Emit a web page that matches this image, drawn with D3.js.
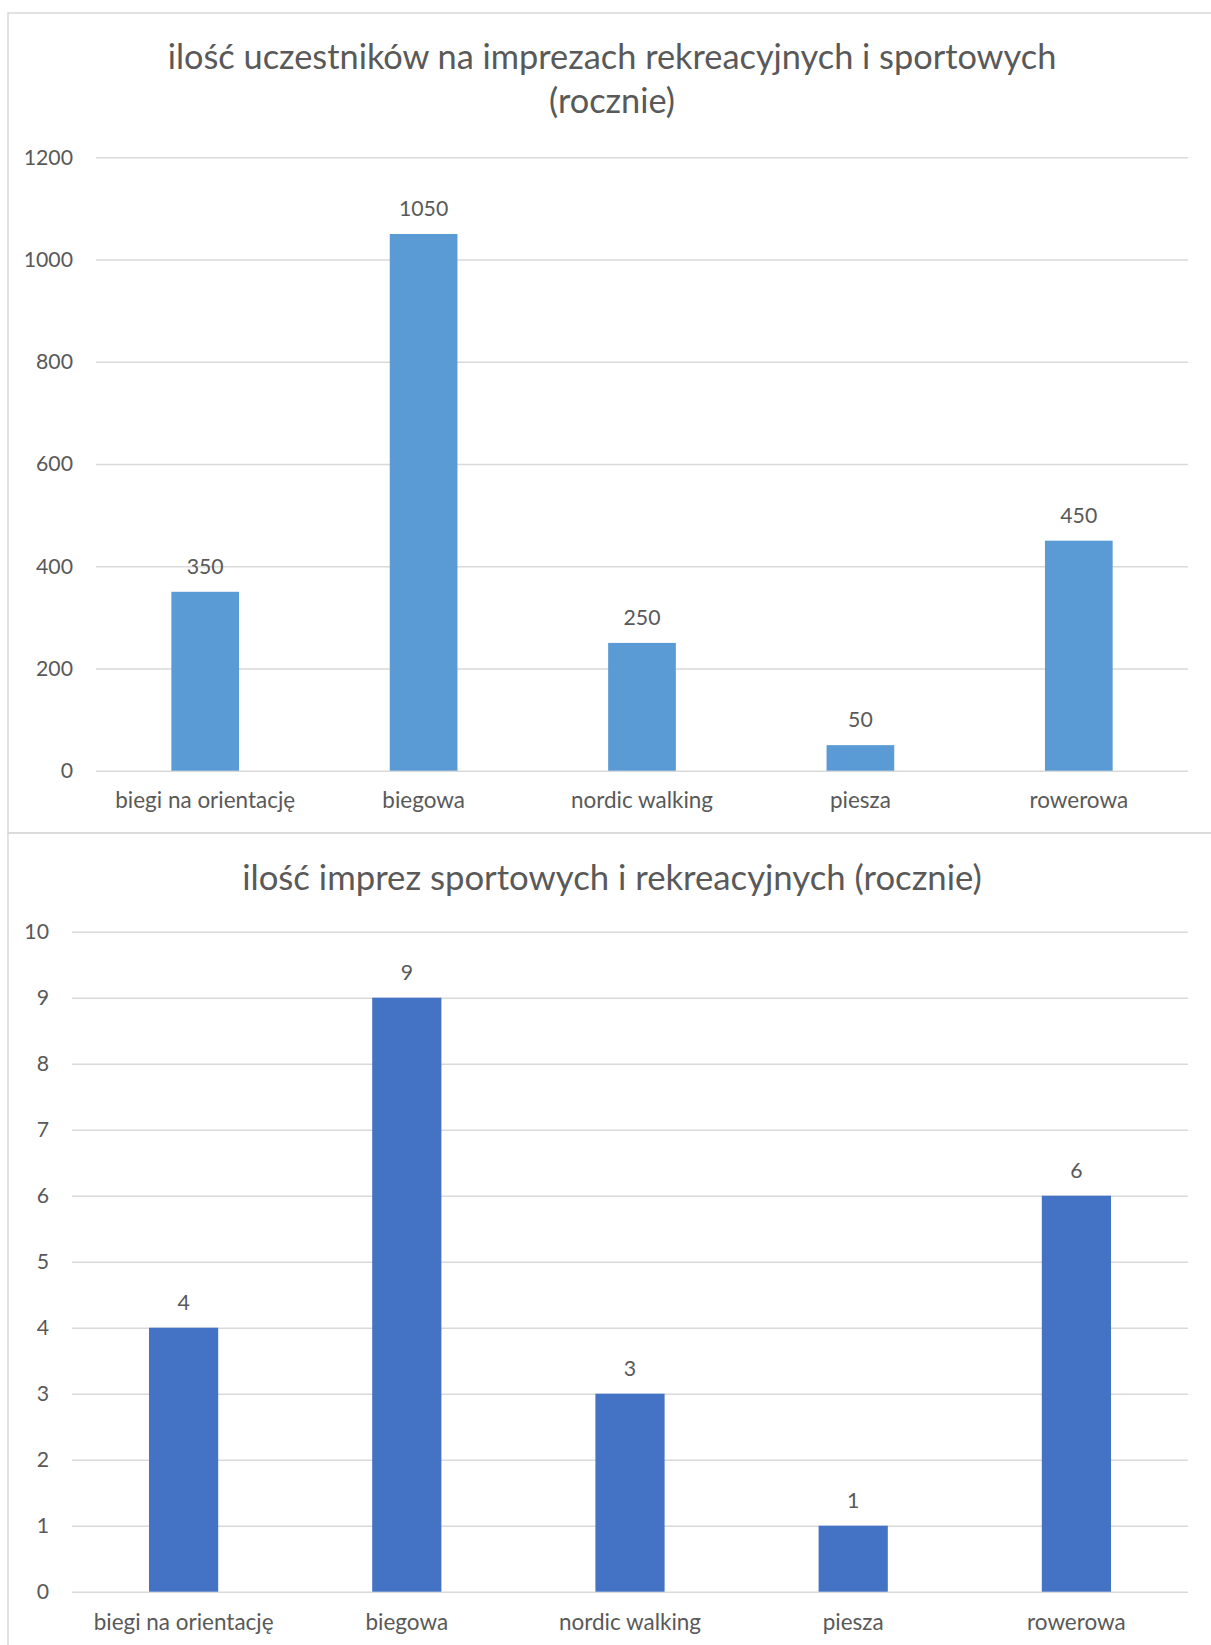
<!DOCTYPE html>
<html>
<head>
<meta charset="utf-8">
<script src="https://d3js.org/d3.v7.min.js"></script>
<style>
  html, body { margin: 0; padding: 0; background: #ffffff; }
  svg { display: block; }
  text { font-family: Lato, "Open Sans", sans-serif; fill: #595959; }
</style>
</head>
<body>
<svg id="chart" width="1211" height="1645"></svg>
<script>
// ---- data ----
const categories = ["biegi na orientację", "biegowa", "nordic walking", "piesza", "rowerowa"];
const participants = [350, 1050, 250, 50, 450];
const events = [4, 9, 3, 1, 6];
const participantTicks = [0, 200, 400, 600, 800, 1000, 1200];
const eventTicks = [0, 1, 2, 3, 4, 5, 6, 7, 8, 9, 10];
const title1Lines = ["ilość uczestników na imprezach rekreacyjnych i sportowych", "(rocznie)"];
const title2Lines = ["ilość imprez sportowych i rekreacyjnych (rocznie)"];

const svg = d3.select("#chart");
const grid = "#d9d9d9";

// measure helper to fit a font size to a target text width
function fitSize(str, targetWidth) {
  const t = svg.append("text").attr("font-size", 100).text(str);
  const w = t.node().getComputedTextLength();
  t.remove();
  return 100 * targetWidth / w;
}
const title1Size = fitSize(title1Lines[0], 889);
const title2Size = fitSize(title2Lines[0], 740);
const labelSize = fitSize(categories[0], 180);
const numSize = (fitSize("1200", 46.5) + labelSize) / 2;

// chart frames
svg.append("rect").attr("x", 8).attr("y", 13).attr("width", 1208).attr("height", 820)
  .attr("fill", "none").attr("stroke", grid).attr("stroke-width", 1.5);
svg.append("rect").attr("x", 8).attr("y", 833).attr("width", 1208).attr("height", 830)
  .attr("fill", "none").attr("stroke", grid).attr("stroke-width", 1.5);

function drawChart(cfg) {
  const g = svg.append("g");
  const x = d3.scaleBand().domain(categories).range([cfg.x0, cfg.x1])
    .paddingInner(0.69).paddingOuter(0.345);
  const y = d3.scaleLinear().domain([cfg.ticks[0], cfg.ticks[cfg.ticks.length - 1]]).range([cfg.yBottom, cfg.yTop]);

  // title
  cfg.title.forEach((line, i) => {
    g.append("text").attr("x", 612).attr("y", cfg.titleY + i * 44)
      .attr("text-anchor", "middle").attr("font-size", cfg.titleSize).text(line);
  });

  // gridlines + value axis
  const yAxis = d3.axisLeft(y).tickValues(cfg.ticks).tickSize(-(cfg.x1 - cfg.x0)).tickPadding(23).tickFormat(d3.format("d"));
  const ag = g.append("g").attr("transform", `translate(${cfg.x0},0)`).call(yAxis);
  ag.select(".domain").remove();
  ag.selectAll(".tick line").attr("stroke", grid).attr("stroke-width", 1.5);
  ag.selectAll(".tick text").attr("font-size", numSize).attr("fill", "#595959")
    .style("font-family", "Lato, 'Open Sans', sans-serif");

  // bars
  g.selectAll("rect.bar").data(cfg.values).enter().append("rect")
    .attr("class", "bar")
    .attr("x", (d, i) => x(categories[i]))
    .attr("width", x.bandwidth())
    .attr("y", d => y(d))
    .attr("height", d => y(0) - y(d))
    .attr("fill", cfg.color);

  // data labels
  g.selectAll("text.val").data(cfg.values).enter().append("text")
    .attr("class", "val")
    .attr("x", (d, i) => x(categories[i]) + x.bandwidth() / 2)
    .attr("y", d => y(d) - 18)
    .attr("text-anchor", "middle").attr("font-size", numSize).text(d => d);

  // category axis
  const xAxis = d3.axisBottom(x).tickSize(0).tickPadding(0);
  const xg = g.append("g").attr("transform", `translate(0,${cfg.yBottom})`).call(xAxis);
  xg.select(".domain").remove();
  xg.selectAll(".tick text").attr("font-size", labelSize).attr("fill", "#595959")
    .style("font-family", "Lato, 'Open Sans', sans-serif")
    .attr("dy", null).attr("y", cfg.catOffset);
}

drawChart({
  x0: 96, x1: 1188, yTop: 157.3, yBottom: 770.7,
  ticks: participantTicks, values: participants, color: "#5B9BD5",
  title: title1Lines, titleY: 69, titleSize: title1Size, catOffset: 37
});
drawChart({
  x0: 72, x1: 1188, yTop: 931.7, yBottom: 1591.7,
  ticks: eventTicks, values: events, color: "#4472C4",
  title: title2Lines, titleY: 890, titleSize: title2Size, catOffset: 38
});
</script>
</body>
</html>
